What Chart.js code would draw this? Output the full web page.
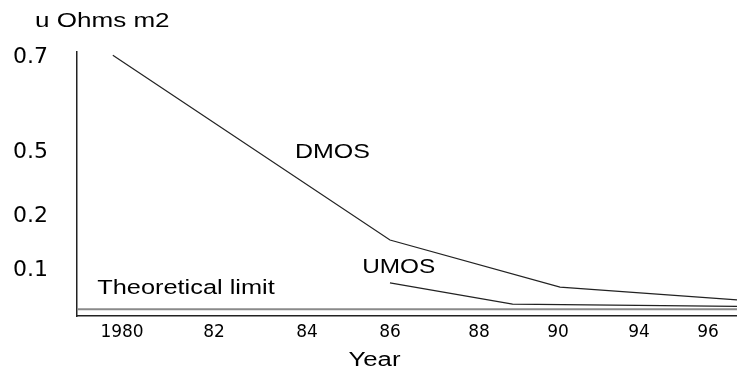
<!DOCTYPE html>
<html>
<head>
<meta charset="utf-8">
<script src="https://cdn.jsdelivr.net/npm/chart.js@4.4.1/dist/chart.umd.min.js"></script>
<style>
  html, body { margin: 0; padding: 0; background: #fff; }
  #wrap { width: 737px; height: 379px; position: relative; }
</style>
</head>
<body>
<div id="wrap"><canvas id="my-Resistance-Chart"></canvas></div>
<script>
// Data
const xTickYears = [1980, 1982, 1984, 1986, 1988, 1990, 1994, 1996];
const xTickLabels = ['1980', '82', '84', '86', '88', '90', '94', '96'];
const yTickValues = [0.1, 0.2, 0.5, 0.7];
const yTickLabels = ['0.1', '0.2', '0.5', '0.7'];

const dmosYears = [1979.8, 1986, 1990.1, 1996.84];
const dmosValues = [0.705, 0.156, 0.063, 0.035];
const umosYears = [1986, 1988.85, 1996.84];
const umosValues = [0.072, 0.026, 0.021];
const limitYears = [1979.02, 1996.84];
const limitValues = [0.0145, 0.0145];

const noteTexts = ['DMOS', 'UMOS', 'Theoretical limit'];
const noteYears = [1983.74, 1985.33, 1979.46];
const noteValues = [0.5, 0.105, 0.0588];

// The original axes are drawn by hand, not to scale: piecewise mapping
const warps = {
  x: { vals: [1979.02, 1980, 1982, 1984, 1986, 1988, 1990, 1994, 1996, 1996.84],
       fracs: [0, 0.0682, 0.2076, 0.3485, 0.4742, 0.6091, 0.7288, 0.8515, 0.9561, 1] },
  y: { vals: [0, 0.1, 0.2, 0.5, 0.7, 0.712],
       fracs: [0, 0.174, 0.377, 0.619, 0.979, 1] }
};

function mapPiece(v, from, to) {
  const n = from.length;
  let i = 1;
  while (i < n - 1 && v > from[i]) i++;
  const t = (v - from[i - 1]) / (from[i] - from[i - 1]);
  return to[i - 1] + t * (to[i] - to[i - 1]);
}

class WarpScale extends Chart.LinearScale {
  getPixelForValue(value) {
    if (value === null || value === undefined) return NaN;
    const w = warps[this.id];
    return this.getPixelForDecimal(mapPiece(value, w.vals, w.fracs));
  }
  getValueForPixel(pixel) {
    const w = warps[this.id];
    return mapPiece(this.getDecimalForPixel(pixel), w.fracs, w.vals);
  }
}
WarpScale.id = 'warp';
WarpScale.defaults = Chart.LinearScale.defaults;
Chart.register(WarpScale);

function toPoints(xs, ys) {
  return xs.map((x, i) => ({ x: x, y: ys[i] }));
}

// the scan is a bit wider than tall, so the texts get stretched sideways
function stretchedText(ctx, text, x, y, size, sx) {
  ctx.save();
  ctx.font = size + 'px "Liberation Sans"';
  ctx.translate(x, y);
  ctx.scale(sx, 1);
  ctx.fillText(text, 0, 0);
  ctx.restore();
}

// Texts written inside the figure
const notesPlugin = {
  id: 'notes',
  afterDatasetsDraw(chart) {
    const ctx = chart.ctx;
    const xs = chart.scales.x, ys = chart.scales.y;
    const area = chart.chartArea;
    ctx.save();
    ctx.fillStyle = '#000';
    ctx.textBaseline = 'middle';
    ctx.textAlign = 'left';

    stretchedText(ctx, 'u Ohms m2', area.left - 42, area.top - 31, 21, 1.24);

    stretchedText(ctx, noteTexts[0], xs.getPixelForValue(noteYears[0]), ys.getPixelForValue(noteValues[0]), 21, 1.19);
    stretchedText(ctx, noteTexts[1], xs.getPixelForValue(noteYears[1]), ys.getPixelForValue(noteValues[1]), 21, 1.16);
    stretchedText(ctx, noteTexts[2], xs.getPixelForValue(noteYears[2]), ys.getPixelForValue(noteValues[2]), 19.5, 1.3);

    stretchedText(ctx, 'Year', xs.getPixelForValue(1985), area.bottom + 45, 19.5, 1.32);
    ctx.restore();
  }
};

function createResistanceChart() {
  const ctx = document.getElementById('my-Resistance-Chart').getContext('2d');
  new Chart(ctx, {
    type: 'line',
    data: {
      datasets: [
        {
          label: 'Theoretical limit',
          data: toPoints(limitYears, limitValues),
          borderColor: '#8a8a8a',
          borderWidth: 2
        },
        {
          label: 'DMOS',
          data: toPoints(dmosYears, dmosValues),
          borderColor: '#222',
          borderWidth: 1.2
        },
        {
          label: 'UMOS',
          data: toPoints(umosYears, umosValues),
          borderColor: '#222',
          borderWidth: 1.2
        }
      ]
    },
    options: {
      responsive: true,
      maintainAspectRatio: false,
      animation: false,
      layout: { padding: { top: 52, right: 0, bottom: 0, left: 0 } },
      elements: { point: { radius: 0 }, line: { tension: 0 } },
      plugins: {
        legend: { display: false },
        tooltip: { enabled: false }
      },
      scales: {
        x: {
          type: 'warp',
          min: 1979.02,
          max: 1996.84,
          grid: { display: false, drawTicks: false },
          border: { display: true, color: '#222', width: 1.5 },
          afterBuildTicks: scale => { scale.ticks = xTickYears.map(v => ({ value: v })); },
          afterFit: scale => { scale.height = 63; },
          ticks: {
            autoSkip: false,
            maxRotation: 0,
            padding: 6,
            color: '#000',
            font: { family: 'DejaVu Sans', size: 17 },
            callback: v => xTickLabels[xTickYears.indexOf(v)]
          }
        },
        y: {
          type: 'warp',
          min: 0,
          max: 0.712,
          grid: { display: false, drawTicks: false },
          border: { display: true, color: '#222', width: 1.5 },
          afterBuildTicks: scale => { scale.ticks = yTickValues.map(v => ({ value: v })); },
          afterFit: scale => { scale.width = 77; },
          ticks: {
            autoSkip: false,
            padding: 29,
            color: '#000',
            font: { family: 'DejaVu Sans', size: 22 },
            callback: v => yTickLabels[yTickValues.indexOf(v)]
          }
        }
      }
    },
    plugins: [notesPlugin]
  });
}

createResistanceChart();
</script>
</body>
</html>
